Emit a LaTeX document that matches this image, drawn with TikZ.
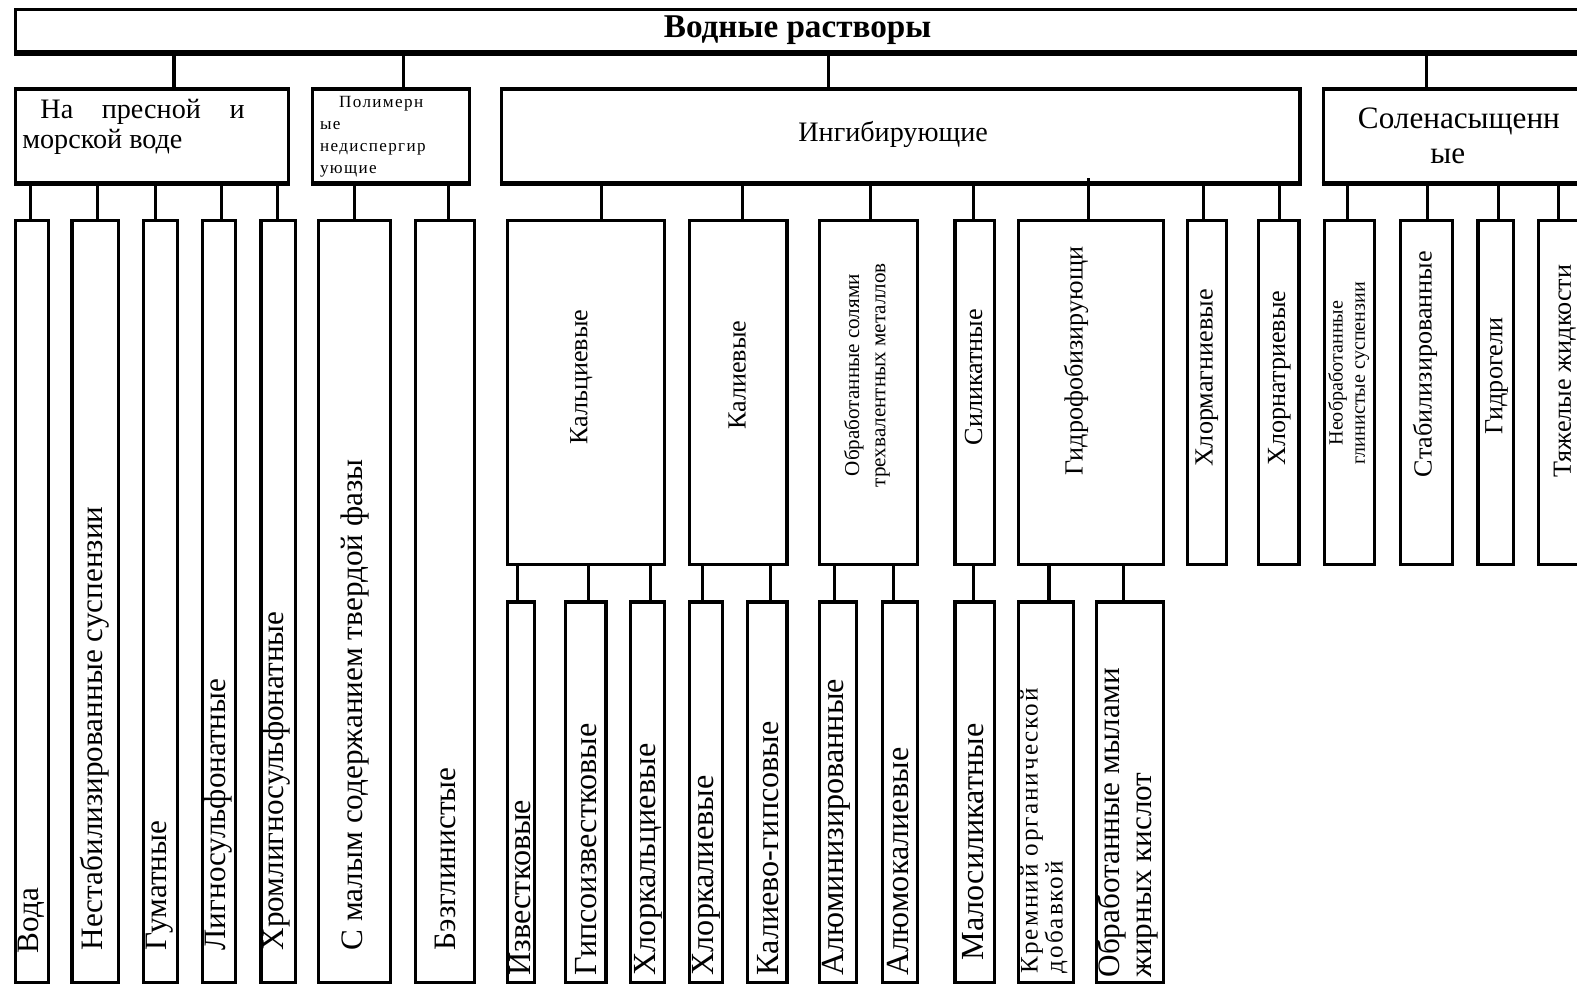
\documentclass[tikz,border=0pt]{standalone}
\usepackage{fontspec}
\setmainfont{Liberation Serif}
\newfontfamily\lspfont[LetterSpace=8]{Liberation Serif}
\newcommand\bx[5]{\node[boxx, anchor=north west, minimum width={(#3-#1)*1pt}, minimum height={(#4-#2)*1pt}] (#5) at (#1,#2) {};}
\newcommand\fs[2]{\fontsize{#1}{#2}\selectfont}
\begin{document}
\begin{tikzpicture}[x=1pt,y=-1pt,
  boxx/.style={draw, line width=3.1pt, inner sep=0pt},
  conn/.style={line width=3pt},
  vt/.style={rotate=90, inner sep=0pt, anchor=west, font=\fs{31}{34}},
  vr/.style={rotate=90, inner sep=0pt, anchor=west, font=\fs{32}{34}},
  vs/.style={rotate=90, inner sep=0pt, font=\fs{26}{28}},
  ht/.style={inner sep=0pt, font=\fs{28}{30}}]
\clip (0,0) rectangle (1568,982);
\fill[white] (0,0) rectangle (1568,982);
% top
\bx{14}{8}{1600}{50}{T}
\draw[line width=5pt] (T.south west) -- (T.south east);
\node[inner sep=0pt, font=\bfseries\fs{33}{36}] (tT) at (793,30) {Водные растворы};
% row 2
\bx{14}{87}{285}{180}{A}
\bx{309}{87}{465}{180}{B}
\bx{497}{87}{1291}{180}{C}
\bx{1314}{87}{1600}{180}{D}
\foreach \n in {A,B,C,D}{\draw[line width=4.5pt] (\n.south west) -- (\n.south east);}
\node[ht, anchor=west, align=left] (tA) at (22,126) {\hbox to 221pt{\hspace*{18pt}На\hfill пресной\hfill и}\\морской воде};
\node[inner sep=0pt, anchor=west, align=left, font=\lspfont\fs{17}{21.7}] (tB) at (318,136) {\hspace*{19pt}Полимерн\\ые\\недиспергир\\ующие};
\node[ht] (tC) at (888,134) {Ингибирующие};
\node[inner sep=0pt, anchor=west, align=left, font=\fs{31}{35}] (tD) at (1350,135) {Соленасыщенн\\\hspace*{72pt}ые};
% row 3
\bx{14}{218}{47}{975}{a1}
\bx{70}{218}{116}{975}{a2}
\bx{141}{218}{175}{975}{a3}
\bx{200}{218}{233}{975}{a4}
\bx{258}{218}{292}{975}{a5}
\bx{315}{218}{387}{975}{b1}
\bx{412}{218}{470}{975}{b2}
\bx{503}{218}{659}{560}{c1}
\bx{684}{218}{781}{560}{c2}
\bx{813}{218}{911}{560}{c3}
\bx{948}{218}{987}{560}{c4}
\bx{1011}{218}{1155}{560}{c5}
\bx{1179}{218}{1218}{560}{c6}
\bx{1250}{218}{1290}{560}{c7}
\bx{1315}{218}{1365}{560}{d1}
\bx{1391}{218}{1443}{560}{d2}
\bx{1468}{218}{1503}{560}{d3}
\bx{1528}{218}{1600}{560}{d4}
% row 4
\bx{503}{597}{530}{975}{e1}
\bx{561}{597}{601}{975}{e2}
\bx{625}{597}{659}{975}{e3}
\bx{684}{597}{717}{975}{f1}
\bx{742}{597}{781}{975}{f2}
\bx{813}{597}{850}{975}{g1}
\bx{876}{597}{911}{975}{g2}
\bx{948}{597}{987}{975}{h1}
\bx{1011}{597}{1066}{975}{i1}
\bx{1089}{597}{1155}{975}{i2}
% connectors
\draw[conn] (T.south -| 173,0) -- (A.north -| 173,0);
\draw[conn] (T.south -| 401,0) -- (B.north -| 401,0);
\draw[conn] (T.south -| 824,0) -- (C.north -| 824,0);
\draw[conn] (T.south -| 1418,0) -- (D.north -| 1418,0);
\draw[conn] (A.south -| 30,0) -- (a1.north -| 30,0);
\draw[conn] (A.south -| 97,0) -- (a2.north -| 97,0);
\draw[conn] (A.south -| 155,0) -- (a3.north -| 155,0);
\draw[conn] (A.south -| 220,0) -- (a4.north -| 220,0);
\draw[conn] (A.south -| 276,0) -- (a5.north -| 276,0);
\draw[conn] (B.south -| 352,0) -- (b1.north -| 352,0);
\draw[conn] (B.south -| 446,0) -- (b2.north -| 446,0);
\draw[conn] (C.south -| 598,0) -- (c1.north -| 598,0);
\draw[conn] (C.south -| 738,0) -- (c2.north -| 738,0);
\draw[conn] (C.south -| 866,0) -- (c3.north -| 866,0);
\draw[conn] (C.south -| 968,0) -- (c4.north -| 968,0);
\draw[conn] (C.south -| 1082,0) ++(0,-6) -- (c5.north -| 1082,0);
\draw[conn] (C.south -| 1197,0) -- (c6.north -| 1197,0);
\draw[conn] (C.south -| 1272,0) -- (c7.north -| 1272,0);
\draw[conn] (D.south -| 1340,0) -- (d1.north -| 1340,0);
\draw[conn] (D.south -| 1419,0) -- (d2.north -| 1419,0);
\draw[conn] (D.south -| 1490,0) -- (d3.north -| 1490,0);
\draw[conn] (D.south -| 1550,0) -- (d4.north -| 1550,0);
\draw[conn] (c1.south -| 515,0) -- (e1.north -| 515,0);
\draw[conn] (c1.south -| 585,0) -- (e2.north -| 585,0);
\draw[conn] (c1.south -| 647,0) -- (e3.north -| 647,0);
\draw[conn] (c2.south -| 698,0) -- (f1.north -| 698,0);
\draw[conn] (c2.south -| 766,0) -- (f2.north -| 766,0);
\draw[conn] (c3.south -| 830,0) -- (g1.north -| 830,0);
\draw[conn] (c3.south -| 888,0) -- (g2.north -| 888,0);
\draw[conn] (c4.south -| 968,0) -- (h1.north -| 968,0);
\draw[conn] (c5.south -| 1043,0) -- (i1.north -| 1043,0);
\draw[conn] (c5.south -| 1117,0) -- (i2.north -| 1117,0);
% texts row 3 left
\node[vt] (ta1) at (31,948) {Вода};
\node[vt] (ta2) at (94,945) {Нестабилизированные суспензии};
\node[vt] (ta3) at (159,945) {Гуматные};
\node[vt] (ta4) at (217,945) {Лигносульфонатные};
\node[vt] (ta5) at (274,945) {Хромлигносульфонатные};
\node[vt] (tb1) at (353,945) {С малым содержанием твердой фазы};
\node[vt] (tb2) at (443,945) {Бэзглинистые};
% texts row 3 right
\node[vs] (tc1) at (578,375) {Кальциевые};
\node[vs] (tc2) at (733,373) {Калиевые};
\node[vs, align=center, font=\fs{21}{26}] (tc3) at (862,373) {Обработанные солями\\трехвалентных металлов};
\node[vs] (tc4) at (968,375) {Силикатные};
\node[vs] (tc5) at (1070,359) {Гидрофобизирующи};
\node[vs] (tc6) at (1200,376) {Хлормагниевые};
\node[vs] (tc7) at (1272,376) {Хлорнатриевые};
\node[vs, align=center, font=\fs{20}{22}] (td1) at (1341,371) {Необработанные\\глинистые суспензии};
\node[vs] (td2) at (1417,362) {Стабилизированные};
\node[vs] (td3) at (1488,374) {Гидрогели};
\node[vs] (td4) at (1556,369) {Тяжелые жидкости};
% texts row 4
\node[vr] (te1) at (517,970) {Известковые};
\node[vr] (te2) at (583,970) {Гипсоизвестковые};
\node[vr] (te3) at (645,970) {Хлоркальциевые};
\node[vr] (tf1) at (702,970) {Хлоркалиевые};
\node[vr] (tf2) at (764,970) {Калиево-гипсовые};
\node[vr] (tg1) at (832,970) {Алюминизированные};
\node[vr] (tg2) at (893,970) {Алюмокалиевые};
\node[vr] (th1) at (968,955) {Малосиликатные};
\node[vr, align=left, font=\lspfont\fs{25}{25}] (ti1) at (1038,968) {Кремний органической\\добавкой};
\node[vr, align=left, font=\fs{31}{32}] (ti2) at (1121,972) {Обработанные мылами\\жирных кислот};
\end{tikzpicture}
\end{document}
